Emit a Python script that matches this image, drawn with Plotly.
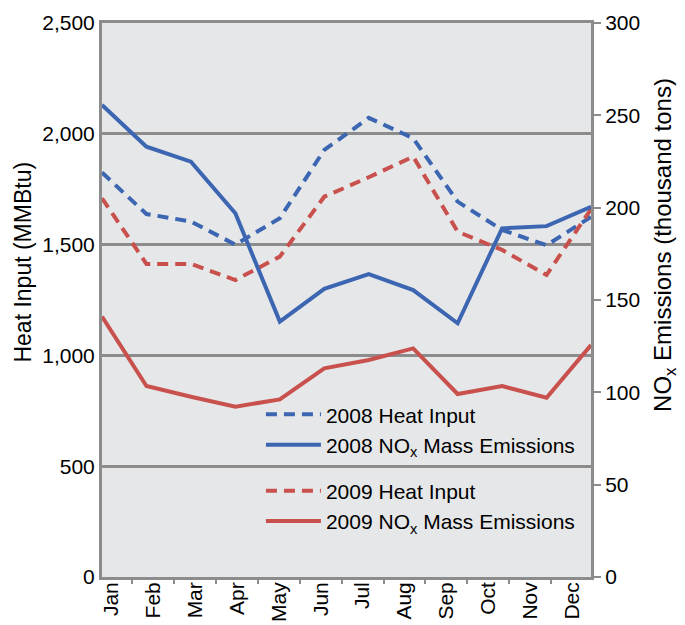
import plotly.graph_objects as go

months = ["Jan", "Feb", "Mar", "Apr", "May", "Jun", "Jul", "Aug", "Sep", "Oct", "Nov", "Dec"]
month_idx = list(range(12))
hi_2008 = [1825, 1638, 1604, 1500, 1619, 1927, 2072, 1980, 1694, 1566, 1497, 1625]
nox_2008 = [255.6, 233, 224.9, 197, 138.3, 156, 164, 155.4, 137.4, 188.8, 190, 200.5]
hi_2009 = [1709, 1413, 1413, 1340, 1446, 1716, 1804, 1897, 1558, 1476, 1363, 1660]
nox_2009 = [141, 103.4, 97.6, 92.2, 96.2, 113, 117.5, 123.8, 99.1, 103.4, 97.1, 125.6]
left_ticks = [0, 500, 1000, 1500, 2000, 2500]
right_ticks = [0, 50, 100, 150, 200, 250, 300]

BLUE = "#3c66b2"
RED = "#c9514d"
GRAY = "#8c8c8c"
FONT = "Liberation Sans, Arial, Helvetica, sans-serif"
DASH = "11px,7px"

fig = go.Figure()

# invisible trace providing the category label axis
fig.add_trace(go.Scatter(x=months, y=[None] * 12, xaxis="x2", yaxis="y",
                         showlegend=False, hoverinfo="skip", mode="lines"))

fig.add_trace(go.Scatter(x=month_idx, y=hi_2008, mode="lines", name="2008 Heat Input",
                         line=dict(color=BLUE, width=4, dash=DASH), legend="legend"))
fig.add_trace(go.Scatter(x=month_idx, y=nox_2008, mode="lines", yaxis="y2",
                         name="2008 NO<sub>x</sub> Mass Emissions",
                         line=dict(color=BLUE, width=4), legend="legend"))
fig.add_trace(go.Scatter(x=month_idx, y=hi_2009, mode="lines", name="2009 Heat Input",
                         line=dict(color=RED, width=4, dash=DASH), legend="legend2"))
fig.add_trace(go.Scatter(x=month_idx, y=nox_2009, mode="lines", yaxis="y2",
                         name="2009 NO<sub>x</sub> Mass Emissions",
                         line=dict(color=RED, width=4), legend="legend2"))

fig.update_layout(
    width=677, height=617,
    margin=dict(l=94, r=94, t=15, b=48),
    paper_bgcolor="white",
    plot_bgcolor="#e6e7e8",
    font=dict(family=FONT, size=21, color="black"),
    xaxis=dict(range=[0, 11], showgrid=False, zeroline=False, showticklabels=False,
               ticks="", showline=True, mirror=True, linecolor=GRAY, linewidth=3,
               automargin=False),
    xaxis2=dict(overlaying="x", side="bottom", type="category", categoryarray=months,
                range=[-0.22, 11.45], ticks="outside", tickson="boundaries", ticklen=6,
                tickwidth=2, tickcolor=GRAY, tickangle=-90, showline=False, showgrid=False,
                zeroline=False, tickfont=dict(size=21), automargin=False),
    yaxis=dict(range=[0, 2500], tickvals=left_ticks, tickformat=",", showgrid=True,
               gridcolor=GRAY, gridwidth=2.5, zeroline=False, showline=True,
               linecolor=GRAY, linewidth=3, ticks="", automargin=False),
    yaxis2=dict(range=[0, 300], tickvals=right_ticks, overlaying="y", side="right",
                showgrid=False, zeroline=False, showline=True, linecolor=GRAY, linewidth=3,
                ticks="outside", ticklen=7, tickwidth=2, tickcolor=GRAY, automargin=False),
    legend=dict(x=0.325, y=0.33, xanchor="left", yanchor="top", bgcolor="rgba(0,0,0,0)",
                font=dict(size=21), tracegroupgap=0, itemwidth=55),
    legend2=dict(x=0.325, y=0.192, xanchor="left", yanchor="top", bgcolor="rgba(0,0,0,0)",
                 font=dict(size=21), tracegroupgap=0, itemwidth=55),
    annotations=[
        dict(text="Heat Input (MMBtu)", xref="paper", yref="paper", x=-0.162, y=0.569,
             textangle=-90, showarrow=False, font=dict(size=23), xanchor="center",
             yanchor="middle"),
        dict(text="NO<sub>x</sub> Emissions (thousand tons)", xref="paper", yref="paper",
             x=1.15, y=0.6, textangle=-90, showarrow=False, font=dict(size=24),
             xanchor="center", yanchor="middle"),
    ],
)

fig.write_html("out.html")
